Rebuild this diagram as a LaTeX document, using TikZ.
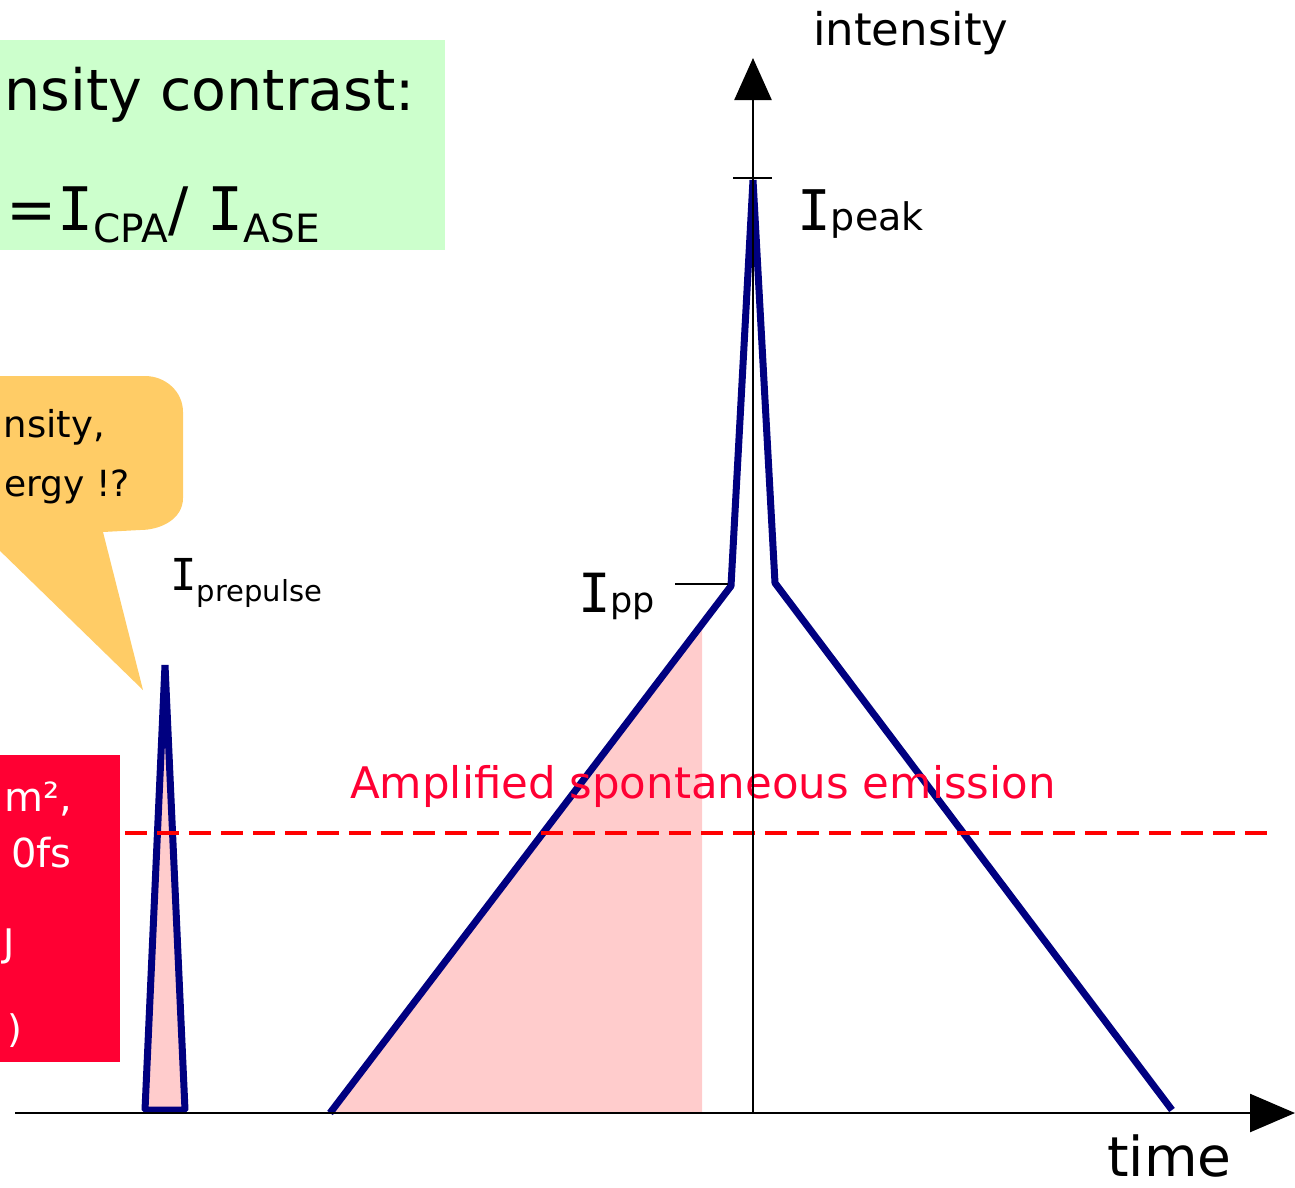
\documentclass[tikz,border=0pt]{standalone}
\usepackage{fontspec}
\setmainfont{DejaVu Sans}
\newfontfamily\serifI{DejaVu Sans Mono}
\usetikzlibrary{arrows.meta}

\definecolor{pulseblue}{HTML}{000080}
\definecolor{pulsepink}{HTML}{FFCCCC}
\definecolor{boxgreen}{HTML}{CCFFCC}
\definecolor{boxorange}{HTML}{FFCC66}
\definecolor{boxred}{HTML}{FF0033}
\definecolor{asered}{HTML}{FF0000}

\newcommand{\fs}[1]{\fontsize{#1}{#1}\selectfont}
\newcommand{\lowsub}[3]{\raisebox{-#2pt}{\fs{#1}#3}}
\newcommand{\bigI}{{\serifI I}}

\tikzset{
  pulse/.style={draw=pulseblue, line width=7pt, line join=bevel},
  axisline/.style={line width=2.5pt, black},
  lbl/.style={inner sep=0pt, anchor=base west},
  lblr/.style={inner sep=0pt, anchor=base east},
}

\begin{document}
\begin{tikzpicture}[x=1pt, y=-1pt]
    % 画布
    \useasboundingbox (0,0) rectangle (1295,1187);
    \clip (0,0) rectangle (1295,1187);

    % 文字框
    \fill[boxgreen] (-5,40) rectangle (445,250);
    \node[lblr] (contrast) at (415,110) {\fs{57}nsity contrast:};
    \node[lblr] (ratio) at (320,230) {\fs{60}=\bigI\lowsub{39}{12}{CPA}/ \bigI\lowsub{39}{12}{ASE}};

    \fill[boxorange] (-5,376) -- (145,376) to[out=0,in=90] (183,412)
        -- (183,498) to[out=-90,in=0] (140,530) -- (103,532) -- (143,690)
        -- (-5,546) -- cycle;
    \node[lblr] (qone) at (105,437) {\fs{37}nsity,};
    \node[lblr] (qtwo) at (130,496) {\fs{36}ergy !?};

    \fill[boxred] (-5,755) rectangle (120,1062);
    \node[lblr, white] (rone) at (72,811) {\fs{40}m²,};
    \node[lblr, white] (rtwo) at (72,867) {\fs{40}0fs};
    \node[lblr, white] (rthree) at (15,956) {\fs{38}J};
    \node[lblr, white] (rfour) at (23,1042) {\fs{38})};

    % 坐标点
    \coordinate (O) at (15,1113);
    \coordinate (tEnd) at (1295,1113);
    \coordinate (iBase) at (753,1113);
    \coordinate (iEnd) at (753,58);
    \coordinate (pre1) at (145,1110);
    \coordinate (pre2) at (165,665);
    \coordinate (pre3) at (185,1110);
    \coordinate (m1) at (330,1113);
    \coordinate (m2) at (731,586);
    \coordinate (m3) at (753,180);
    \coordinate (m4) at (775,583);
    \coordinate (m5) at (1172,1110);
    \coordinate (sh1) at (702,624);
    \coordinate (sh2) at (702,1113);

    % 脉冲
    \fill[pulsepink] (m1) -- (sh1) -- (sh2) -- cycle;
    \filldraw[pulse, fill=pulsepink] (pre1) -- (pre2) -- (pre3) -- cycle;
    \draw[pulse] (m1) -- (m2) -- (m3) -- (m4) -- (m5);

    % ASE 水平
    \coordinate (a1) at (125,833);
    \coordinate (a2) at (1275,833);
    \draw[asered, line width=4pt, dash pattern=on 22pt off 10pt] (a1) -- (a2);
    \node[lbl, boxred] (ase) at (350,798) {\fs{43.5}Amplified spontaneous emission};

    % 坐标轴
    \draw[axisline, -{Triangle[length=45pt, width=38pt]}] (O) -- (tEnd);
    \draw[axisline, -{Triangle[length=42pt, width=37pt]}] (iBase) -- (iEnd);
    \coordinate (pk1) at (733,178);
    \coordinate (pk2) at (772,178);
    \draw[axisline] (pk1) -- (pk2);
    \coordinate (pp1) at (675,584);
    \coordinate (pp2) at (728,584);
    \draw[axisline] (pp1) -- (pp2);

    % 文字标注
    \node[lbl] (ylab) at (813,45) {\fs{45}intensity};
    \node[lbl] (xlab) at (1107,1176) {\fs{55}time};
    \node[lbl] (ipeak) at (797,230) {\fs{56}\bigI\fs{38}peak};
    \node[lbl] (ipp) at (578,612) {\fs{54}\bigI\fs{35}pp};
    \node[lbl] (ipre) at (170,590) {\fs{44}\bigI\lowsub{29}{11}{prepulse}};
\end{tikzpicture}
\end{document}
